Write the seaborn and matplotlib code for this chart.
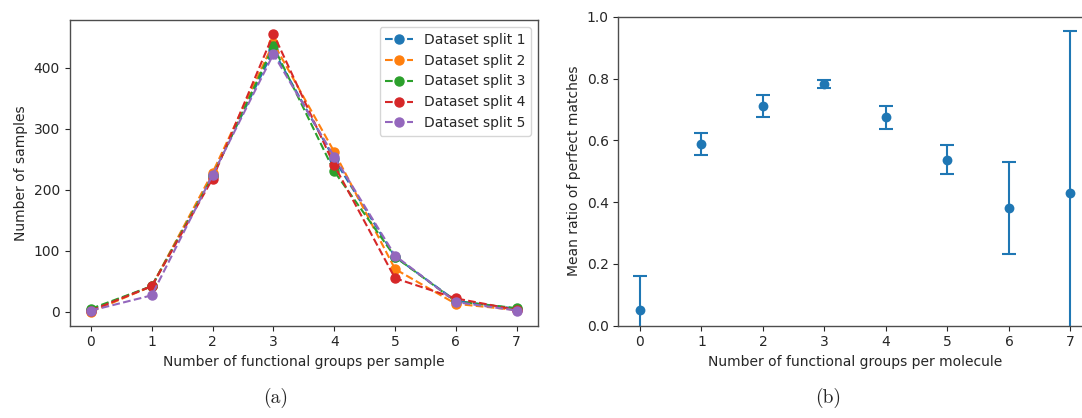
import matplotlib
matplotlib.use("Agg")
import matplotlib.pyplot as plt
import seaborn as sns
import pandas as pd

# panel (a): samples per number of functional groups, one series per split
groups = [0, 1, 2, 3, 4, 5, 6, 7]
split_1 = [3, 42, 224, 428, 250, 90, 18, 5]
split_2 = [0, 42, 228, 440, 262, 70, 13, 3]
split_3 = [5, 42, 222, 435, 230, 90, 17, 6]
split_4 = [2, 42, 218, 455, 240, 55, 22, 3]
split_5 = [2, 27, 224, 422, 254, 92, 16, 2]
split_names = ["Dataset split 1", "Dataset split 2", "Dataset split 3",
               "Dataset split 4", "Dataset split 5"]

# panel (b): mean ratio of perfect matches with error
ratio_mean = [0.051, 0.588, 0.711, 0.781, 0.674, 0.537, 0.381, 0.431]
ratio_err = [0.110, 0.037, 0.037, 0.013, 0.037, 0.047, 0.150, 0.524]

sns.set_style("ticks")
plt.rcParams["font.family"] = ["DejaVu Sans"]
plt.rcParams["font.size"] = 10
colors = sns.color_palette("tab10")

fig = plt.figure(figsize=(10.82, 4.18), dpi=100)
ax1 = fig.add_axes([0.0644, 0.2208, 0.4328, 0.7312])
ax2 = fig.add_axes([0.5716, 0.2208, 0.4376, 0.7392])

long = pd.DataFrame({
    "groups": groups * 5,
    "count": split_1 + split_2 + split_3 + split_4 + split_5,
    "split": [n for n in split_names for _ in groups],
})
for i, name in enumerate(split_names):
    sub = long[long["split"] == name]
    sns.lineplot(data=sub, x="groups", y="count", ax=ax1, color=colors[i],
                 marker="o", linestyle="--", markersize=6.5,
                 markeredgecolor=colors[i], markeredgewidth=1,
                 linewidth=1.5, label=name)
ax1.set_xticks(groups)
ax1.set_yticks([0, 100, 200, 300, 400])
ax1.set_xlabel("Number of functional groups per sample")
ax1.set_ylabel("Number of samples")
ax1.legend(loc="upper right", fontsize=10, framealpha=0.8)

ax2.errorbar(groups, ratio_mean, yerr=ratio_err, fmt="none",
             ecolor=colors[0], elinewidth=1.5, capsize=5, capthick=1.5)
sns.scatterplot(x=groups, y=ratio_mean, ax=ax2, color=colors[0], s=50,
                edgecolor=colors[0], linewidth=0, zorder=3)
ax2.set_xlim(-0.35, 7.35)
ax2.set_ylim(0, 1.0)
ax2.set_xticks(groups)
ax2.set_xlabel("Number of functional groups per molecule")
ax2.set_ylabel("Mean ratio of perfect matches")

for a in (ax1, ax2):
    for s in a.spines.values():
        s.set_linewidth(1.0)
        s.set_color("0.3")

fig.text(0.255, 0.024, "(a)", family="cmr10", fontsize=14, ha="center", va="bottom")
fig.text(0.765, 0.024, "(b)", family="cmr10", fontsize=14, ha="center", va="bottom")

fig.savefig("out.png", dpi=100)
